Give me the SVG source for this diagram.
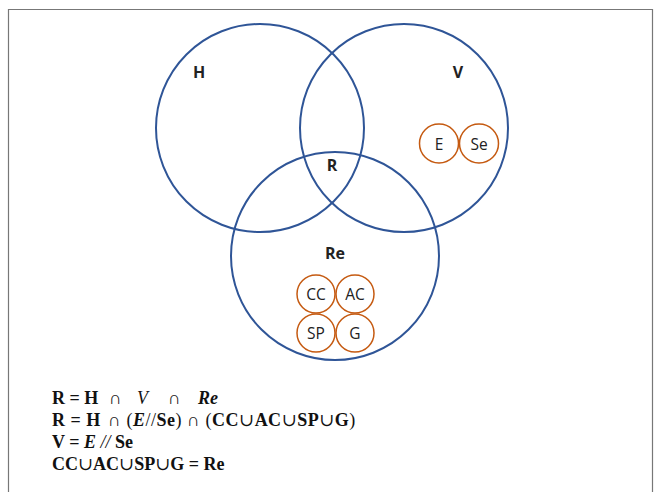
<svg xmlns="http://www.w3.org/2000/svg" width="660" height="492" viewBox="0 0 660 492">
<style>
.big{fill:none;stroke:#2F5597;stroke-width:2}
.sm{fill:none;stroke:#C55A11;stroke-width:1.5}
.lb{font-family:"Open Sans","Liberation Sans",sans-serif;font-size:16px;font-weight:bold;fill:#222;text-anchor:middle}
.sl{font-family:"Open Sans","Liberation Sans",sans-serif;font-size:15.5px;fill:#222;text-anchor:middle}
.eq{font-family:"Liberation Serif","DejaVu Serif",serif;font-size:18px;fill:#111}
.b{font-weight:bold}
.i{font-style:italic}
.w{letter-spacing:0.5px}
</style>
<rect x="0" y="0" width="660" height="492" fill="#fff"/>
<path d="M8.5,492 V9.5 H652.5 V492" fill="none" stroke="#777" stroke-width="1.2"/>
<g id="H"><circle class="big" cx="260" cy="128" r="104"/><text class="lb" x="199" y="78">H</text></g>
<g id="V"><circle class="big" cx="404" cy="128" r="104"/><text class="lb" x="458" y="78">V</text></g>
<g id="Re"><circle class="big" cx="335" cy="256" r="104"/><text class="lb" x="335" y="259">Re</text></g>
<g id="R"><text class="lb" x="332" y="171">R</text></g>
<g id="E"><circle class="sm" cx="439" cy="143.5" r="19.5"/><text class="sl" x="439" y="149.5">E</text></g>
<g id="Se"><circle class="sm" cx="479" cy="143.5" r="19.5"/><text class="sl" x="479" y="149.5">Se</text></g>
<g id="CC"><circle class="sm" cx="316" cy="294" r="19"/><text class="sl" x="316" y="299.5">CC</text></g>
<g id="AC"><circle class="sm" cx="355" cy="294" r="19"/><text class="sl" x="355" y="299.5">AC</text></g>
<g id="SP"><circle class="sm" cx="316" cy="333" r="19"/><text class="sl" x="316" y="338.5">SP</text></g>
<g id="G"><circle class="sm" cx="355" cy="333" r="19"/><text class="sl" x="355" y="338.5">G</text></g>
<g id="connectors"></g>
<g id="formulas">
<text class="eq" y="404"><tspan x="52" class="b">R = H</tspan><tspan x="109">∩</tspan><tspan x="137" class="i">V</tspan><tspan x="168">∩</tspan><tspan x="198" class="b i">Re</tspan></text>
<text class="eq w" y="426"><tspan x="52" class="b">R = H</tspan><tspan x="108">∩ (</tspan><tspan class="b i">E</tspan><tspan>//</tspan><tspan class="b">Se</tspan><tspan>) ∩ (</tspan><tspan class="b">CC</tspan><tspan>∪</tspan><tspan class="b">AC</tspan><tspan>∪</tspan><tspan class="b">SP</tspan><tspan>∪</tspan><tspan class="b">G</tspan><tspan>)</tspan></text>
<text class="eq" y="448"><tspan x="52" class="b">V = </tspan><tspan class="b i">E</tspan><tspan class="i"> // </tspan><tspan class="b">Se</tspan></text>
<text class="eq" y="470"><tspan x="52" class="b">CC</tspan><tspan>∪</tspan><tspan class="b">AC</tspan><tspan>∪</tspan><tspan class="b">SP</tspan><tspan>∪</tspan><tspan class="b">G = Re</tspan></text>
</g>
</svg>
